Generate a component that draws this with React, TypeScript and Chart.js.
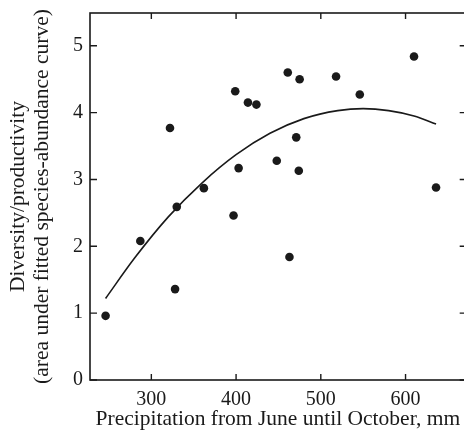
import React, { useEffect, useRef } from "react";
import { Chart, registerables } from "chart.js";

Chart.register(...registerables);

// Observations: precipitation (mm) and diversity/productivity
const PRECIP = [246, 287, 322, 328, 330, 362, 397, 399, 403, 414, 424, 448, 461, 463, 471, 474, 475, 518, 546, 610, 636];
const DIVERSITY = [0.96, 2.08, 3.77, 1.36, 2.59, 2.87, 2.46, 4.32, 3.17, 4.15, 4.12, 3.28, 4.6, 1.84, 3.63, 3.13, 4.5, 4.54, 4.27, 4.84, 2.88];

// Fitted curve
const CURVE_X = [246, 280, 320, 360, 400, 440, 480, 520, 550, 580, 610, 636];
const CURVE_Y = [1.22, 1.82, 2.44, 2.95, 3.37, 3.69, 3.91, 4.03, 4.06, 4.03, 3.95, 3.83];

const X_TICKS = [300, 400, 500, 600];
const Y_TICKS = [0, 1, 2, 3, 4, 5];

const X_TITLE = "Precipitation from June until October, mm";
const Y_TITLE = ["Diversity/productivity", "(area under fitted species-abundance curve)"];

const INK = "#1a1a1a";
const FONT = "'Liberation Serif', 'DejaVu Serif', serif";

const framePlugin = {
  id: "frame",
  afterDraw(chart: any) {
    const { ctx, chartArea: a, scales } = chart;
    const xs = scales.x;
    const ys = scales.y;
    ctx.save();
    ctx.strokeStyle = INK;
    ctx.lineWidth = 1.6;
    ctx.strokeRect(a.left, a.top, a.right - a.left, a.bottom - a.top);
    ctx.lineWidth = 1.4;
    ctx.beginPath();
    for (const v of X_TICKS) {
      const px = xs.getPixelForValue(v);
      ctx.moveTo(px, a.bottom);
      ctx.lineTo(px, a.bottom - 6);
      ctx.moveTo(px, a.top);
      ctx.lineTo(px, a.top + 6);
    }
    for (const v of Y_TICKS) {
      const py = ys.getPixelForValue(v);
      ctx.moveTo(a.left, py);
      ctx.lineTo(a.left + 7, py);
      ctx.moveTo(a.right, py);
      ctx.lineTo(a.right - 6, py);
    }
    ctx.stroke();
    ctx.restore();
  },
};

export default function App() {
  const ref = useRef<HTMLCanvasElement | null>(null);

  useEffect(() => {
    if (!ref.current) return;
    const chart = new Chart(ref.current, {
      type: "scatter",
      data: {
        datasets: [
          {
            type: "line",
            data: CURVE_X.map((x, i) => ({ x, y: CURVE_Y[i] })),
            borderColor: INK,
            borderWidth: 1.6,
            pointRadius: 0,
            tension: 0.4,
            cubicInterpolationMode: "monotone",
            fill: false,
          } as any,
          {
            type: "scatter",
            data: PRECIP.map((x, i) => ({ x, y: DIVERSITY[i] })),
            backgroundColor: INK,
            borderColor: INK,
            pointRadius: 4.3,
            borderWidth: 0,
          },
        ],
      },
      options: {
        responsive: false,
        animation: false,
        devicePixelRatio: 1,
        layout: { padding: { top: 13, right: 3, left: 0, bottom: 0 } },
        plugins: { legend: { display: false }, tooltip: { enabled: false } },
        scales: {
          x: {
            type: "linear",
            min: 227.6,
            max: 671,
            afterBuildTicks: (s: any) => {
              s.ticks = X_TICKS.map((v) => ({ value: v }));
            },
            afterFit: (s: any) => {
              s.height = 54;
              s.paddingLeft = 0;
              s.paddingRight = 0;
            },
            grid: { display: false, drawTicks: false },
            border: { display: false },
            ticks: {
              color: INK,
              font: { family: FONT, size: 20 },
              padding: 8,
              maxRotation: 0,
            },
            title: {
              display: true,
              text: X_TITLE,
              color: INK,
              font: { family: FONT, size: 21.5, lineHeight: 1.12 },
              padding: { top: 0, bottom: 3 },
            },
          },
          y: {
            type: "linear",
            min: 0,
            max: 5.49,
            afterBuildTicks: (s: any) => {
              s.ticks = Y_TICKS.map((v) => ({ value: v }));
            },
            afterFit: (s: any) => {
              s.width = 90;
              s.paddingTop = 0;
              s.paddingBottom = 0;
            },
            grid: { display: false, drawTicks: false },
            border: { display: false },
            ticks: {
              color: INK,
              font: { family: FONT, size: 20 },
              padding: 7,
            },
            title: {
              display: true,
              text: Y_TITLE,
              color: INK,
              font: { family: FONT, size: 21.5, lineHeight: 1.12 },
              padding: { top: 6.5, bottom: 0 },
            },
          },
        },
      },
      plugins: [framePlugin],
    });
    return () => chart.destroy();
  }, []);

  return (
    <div
      style={{
        position: "absolute",
        left: 0,
        top: 0,
        width: 464,
        height: 434,
        overflow: "hidden",
        background: "#fff",
      }}
    >
      <canvas ref={ref} width={470} height={434} style={{ width: 470, height: 434, display: "block" }} />
    </div>
  );
}
